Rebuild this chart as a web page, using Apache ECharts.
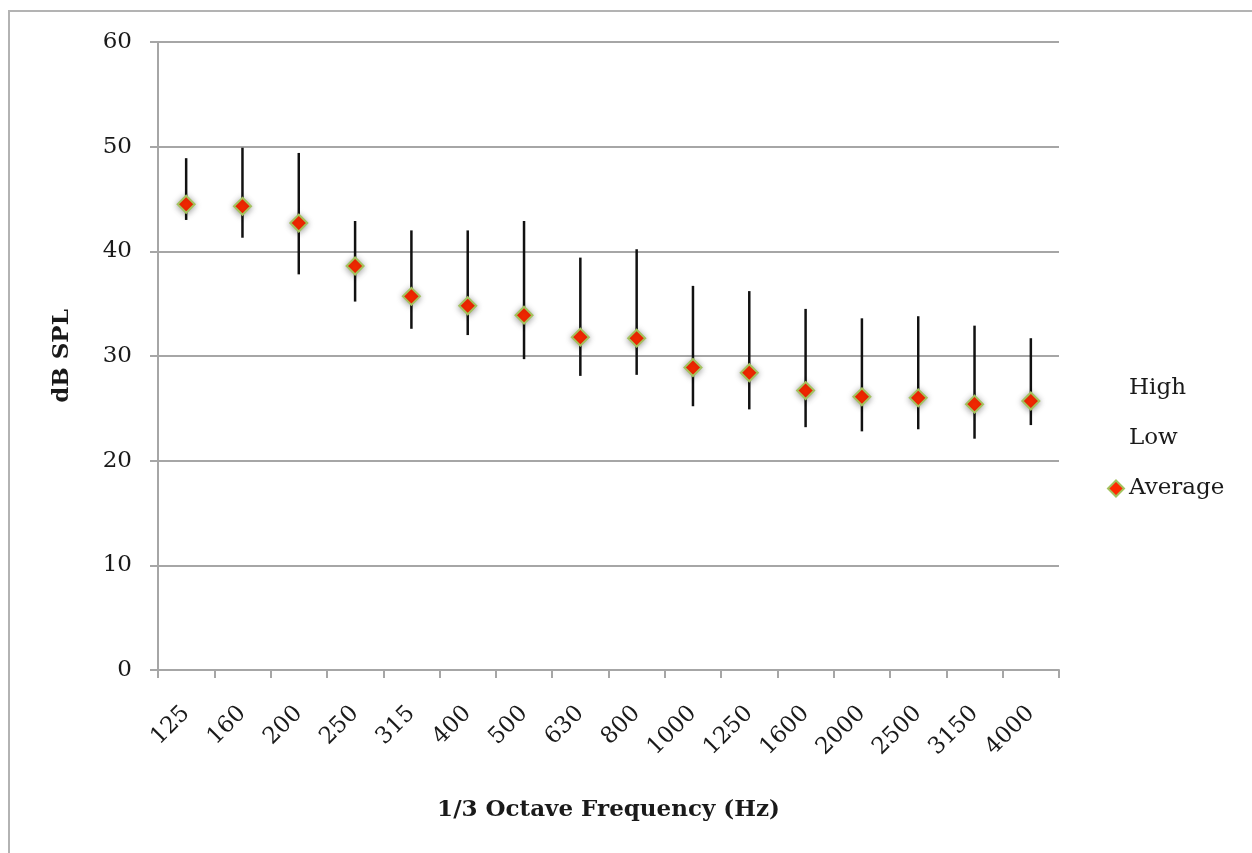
<!DOCTYPE html>
<html>
<head>
<meta charset="utf-8">
<script src="https://cdn.jsdelivr.net/npm/echarts@6/dist/echarts.min.js"></script>
<style>
  html, body { margin: 0; padding: 0; background: #fff; }
  #chart { width: 1252px; height: 853px; }
</style>
</head>
<body>
<div id="chart"></div>
<script>
// 1/3 octave bands
var freqs = ['125', '160', '200', '250', '315', '400', '500', '630', '800',
             '1000', '1250', '1600', '2000', '2500', '3150', '4000'];
var highVals = [48.9, 49.9, 49.4, 42.9, 42.0, 42.0, 42.9, 39.4, 40.2,
                36.7, 36.2, 34.5, 33.6, 33.8, 32.9, 31.7];
var lowVals = [43.0, 41.3, 37.8, 35.2, 32.6, 32.0, 29.7, 28.1, 28.2,
               25.2, 24.9, 23.2, 22.8, 23.0, 22.1, 23.4];
var avgVals = [44.5, 44.3, 42.7, 38.6, 35.7, 34.8, 33.9, 31.8, 31.7,
               28.9, 28.4, 26.7, 26.1, 26.0, 25.4, 25.7];
var yTicks = { min: 0, max: 60, interval: 10 };

var serif = '"DejaVu Serif", "Liberation Serif", serif';

// high-low lines: [index, high, low]
var rangeData = freqs.map(function (f, i) {
  return [i, highVals[i], lowVals[i]];
});

var chart = echarts.init(document.getElementById('chart'));

var option = {
  backgroundColor: '#ffffff',
  animation: false,
  graphic: [{
    // outer frame, cut off at right/bottom like the screenshot
    type: 'rect',
    shape: { x: 9, y: 11, width: 1400, height: 1000 },
    style: { fill: 'none', stroke: '#b3b3b3', lineWidth: 2 },
    silent: true
  }],
  grid: {
    left: 158,
    right: 193,
    top: 42,
    bottom: 183
  },
  legend: {
    orient: 'vertical',
    left: 1102,
    top: 372,
    itemGap: 27,
    itemWidth: 16,
    itemHeight: 16,
    textStyle: { fontFamily: serif, fontSize: 23, lineHeight: 23, color: '#1a1a1a' },
    data: [
      { name: 'High', icon: 'rect', itemStyle: { opacity: 0 } },
      { name: 'Low', icon: 'rect', itemStyle: { opacity: 0 } },
      { name: 'Average', icon: 'diamond' }
    ]
  },
  xAxis: {
    type: 'category',
    data: freqs,
    boundaryGap: true,
    name: '1/3 Octave Frequency (Hz)',
    nameLocation: 'middle',
    nameGap: 129,
    nameTextStyle: { fontFamily: serif, fontSize: 23, fontWeight: 'bold', color: '#1a1a1a' },
    axisLine: { lineStyle: { color: '#a6a6a6', width: 2 } },
    axisTick: { show: true, length: 8, lineStyle: { color: '#a6a6a6', width: 2 } },
    axisLabel: {
      rotate: 45,
      margin: 40,
      fontFamily: serif,
      fontSize: 23,
      color: '#1a1a1a'
    }
  },
  yAxis: {
    type: 'value',
    min: yTicks.min,
    max: yTicks.max,
    interval: yTicks.interval,
    name: 'dB SPL',
    nameLocation: 'middle',
    nameRotate: 90,
    nameGap: 84,
    nameTextStyle: { fontFamily: serif, fontSize: 23, fontWeight: 'bold', color: '#1a1a1a' },
    axisLine: { show: true, lineStyle: { color: '#a6a6a6', width: 2 } },
    axisTick: { show: true, length: 8, lineStyle: { color: '#a6a6a6', width: 2 } },
    splitLine: { lineStyle: { color: '#a6a6a6', width: 2 } },
    axisLabel: {
      margin: 26,
      fontFamily: serif,
      fontSize: 23,
      color: '#1a1a1a'
    }
  },
  series: [
    {
      name: 'High',
      type: 'scatter',
      symbolSize: 0,
      data: highVals
    },
    {
      name: 'Low',
      type: 'scatter',
      symbolSize: 0,
      data: lowVals
    },
    {
      // vertical high-low lines
      type: 'custom',
      silent: true,
      data: rangeData,
      encode: { x: 0, y: [1, 2] },
      renderItem: function (params, api) {
        var top = api.coord([api.value(0), api.value(1)]);
        var bottom = api.coord([api.value(0), api.value(2)]);
        return {
          type: 'line',
          shape: { x1: top[0], y1: top[1], x2: bottom[0], y2: bottom[1] },
          style: { stroke: '#111111', lineWidth: 2.5 }
        };
      },
      z: 1
    },
    {
      name: 'Average',
      type: 'scatter',
      symbol: 'diamond',
      symbolSize: 17,
      data: avgVals,
      itemStyle: {
        color: '#ff2a00',
        opacity: 1,
        borderColor: '#a3c25e',
        borderWidth: 2,
        shadowBlur: 6,
        shadowColor: 'rgba(0,0,0,0.35)',
        shadowOffsetY: 1
      },
      z: 5
    }
  ]
};

chart.setOption(option);
</script>
</body>
</html>
